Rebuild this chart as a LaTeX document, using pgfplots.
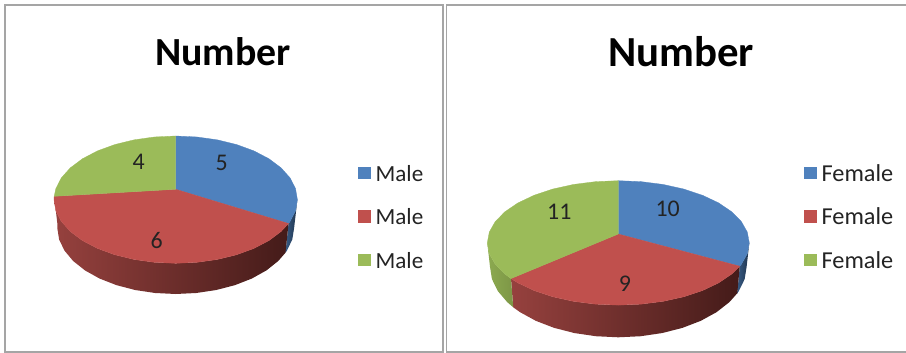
\documentclass[border=0pt]{standalone}
\usepackage{pgfplots}
\usepackage{pgfplotstable}
\usepackage{fontspec}
\pgfplotsset{compat=1.18}
\setmainfont{Carlito}
\definecolor{pblue}{HTML}{4F81BD}
\definecolor{pred}{HTML}{C0504D}
\definecolor{pgreen}{HTML}{9BBB59}
\definecolor{frame}{RGB}{165,165,165}
\definecolor{txt}{RGB}{35,35,35}
% unit-ellipse outlines: s = sin t, c = cos t, r = 0 top rim, r = 1 lower rim
\pgfplotstableread{
s c r
0 0.163 0
0 1 0
.1736 .9848 0
.3420 .9397 0
.5 .8660 0
.6428 .7660 0
.7660 .6428 0
.8660 .5 0
.9397 .3420 0
.9848 .1736 0
1 0 0
.9848 -.1736 0
.9397 -.3420 0
.9272 -.3746 0
}\LB
\pgfplotstableread{
s c r
0 0.163 0
.9272 -.3746 0
.8660 -.5 0
.7660 -.6428 0
.6428 -.7660 0
.5 -.8660 0
.3420 -.9397 0
.1736 -.9848 0
0 -1 0
-.1736 -.9848 0
-.3420 -.9397 0
-.5 -.8660 0
-.6428 -.7660 0
-.7660 -.6428 0
-.8660 -.5 0
-.9397 -.3420 0
-.9848 -.1736 0
-1 0 0
-.9986 .0523 0
}\LR
\pgfplotstableread{
s c r
0 0.163 0
-.9986 .0523 0
-.9848 .1736 0
-.9397 .3420 0
-.8660 .5 0
-.7660 .6428 0
-.6428 .7660 0
-.5 .8660 0
-.3420 .9397 0
-.1736 .9848 0
0 1 0
}\LG
\pgfplotstableread{
s c r
.9272 -.3746 0
.8660 -.5 0
.7660 -.6428 0
.6428 -.7660 0
.5 -.8660 0
.3420 -.9397 0
.1736 -.9848 0
0 -1 0
-.1736 -.9848 0
-.3420 -.9397 0
-.5 -.8660 0
-.6428 -.7660 0
-.7660 -.6428 0
-.8660 -.5 0
-.9397 -.3420 0
-.9848 -.1736 0
-1 0 0
-.9986 .0523 0
-.9986 .0523 1
-1 0 1
-.9848 -.1736 1
-.9397 -.3420 1
-.8660 -.5 1
-.7660 -.6428 1
-.6428 -.7660 1
-.5 -.8660 1
-.3420 -.9397 1
-.1736 -.9848 1
0 -1 1
.1736 -.9848 1
.3420 -.9397 1
.5 -.8660 1
.6428 -.7660 1
.7660 -.6428 1
.8660 -.5 1
.9272 -.3746 1
}\LRW
\pgfplotstableread{
s c r
1 0 0
.9848 -.1736 0
.9397 -.3420 0
.9272 -.3746 0
.9272 -.3746 1
.9397 -.3420 1
.9848 -.1736 1
1 0 1
}\BW
\pgfplotstableread{
s c r
0 0.143 0
0 1 0
.1736 .9848 0
.3420 .9397 0
.5 .8660 0
.6428 .7660 0
.7660 .6428 0
.8660 .5 0
.9397 .3420 0
.9848 .1736 0
1 0 0
.9848 -.1736 0
.9397 -.3420 0
.9272 -.3746 0
}\RB
\pgfplotstableread{
s c r
0 0.143 0
.9272 -.3746 0
.8660 -.5 0
.7660 -.6428 0
.6428 -.7660 0
.5 -.8660 0
.3420 -.9397 0
.1736 -.9848 0
0 -1 0
-.1736 -.9848 0
-.3420 -.9397 0
-.5 -.8660 0
-.6428 -.7660 0
-.7660 -.6428 0
-.8192 -.5736 0
}\RR
\pgfplotstableread{
s c r
0 0.143 0
-.8192 -.5736 0
-.8660 -.5 0
-.9397 -.3420 0
-.9848 -.1736 0
-1 0 0
-.9848 .1736 0
-.9397 .3420 0
-.8660 .5 0
-.7660 .6428 0
-.6428 .7660 0
-.5 .8660 0
-.3420 .9397 0
-.1736 .9848 0
0 1 0
}\RG
\pgfplotstableread{
s c r
.9272 -.3746 0
.8660 -.5 0
.7660 -.6428 0
.6428 -.7660 0
.5 -.8660 0
.3420 -.9397 0
.1736 -.9848 0
0 -1 0
-.1736 -.9848 0
-.3420 -.9397 0
-.5 -.8660 0
-.6428 -.7660 0
-.7660 -.6428 0
-.8192 -.5736 0
-.8192 -.5736 1
-.7660 -.6428 1
-.6428 -.7660 1
-.5 -.8660 1
-.3420 -.9397 1
-.1736 -.9848 1
0 -1 1
.1736 -.9848 1
.3420 -.9397 1
.5 -.8660 1
.6428 -.7660 1
.7660 -.6428 1
.8660 -.5 1
.9272 -.3746 1
}\RRW
\pgfplotstableread{
s c r
-.8192 -.5736 0
-.8660 -.5 0
-.9397 -.3420 0
-.9848 -.1736 0
-1 0 0
-1 0 1
-.9848 -.1736 1
-.9397 -.3420 1
-.8660 -.5 1
-.8192 -.5736 1
}\RGW
\pgfplotsset{
  table/lp/.style={x expr=175.7+(121.7-3.3*\thisrow{r})*\thisrow{s},
                   y expr=199.65+28.35*\thisrow{r}-(63.65+2.35*\thisrow{r})*\thisrow{c}},
  table/rp/.style={x expr=618.3+(131-2.7*\thisrow{r})*\thisrow{s},
                   y expr=242.9+24*\thisrow{r}-(62.2+8.2*\thisrow{r})*\thisrow{c}},
  face/.style={fill=#1,draw=#1,line width=.3pt,forget plot},
  panel/.style={
    scale only axis,y dir=reverse,ticks=none,
    ymin=5,ymax=352,height=347bp,
    axis line style={draw=frame,line width=1.7bp},
    title style={anchor=center,text=black,inner sep=0pt},
    legend style={draw=none,fill=none,inner sep=0pt,anchor=north west,
      text=txt,row sep=27.5bp,
      nodes={inner sep=0pt,text height=16bp,text depth=0pt}},
    legend cell align=left,
    legend image code/.code={\path[draw=none,fill=none] (0bp,0bp) -- (17.4bp,0bp);\fill[draw=none,##1] (0bp,-6.3bp) rectangle (12.7bp,6.4bp);},
  },
  lab/.style={only marks,mark size=0pt,forget plot,nodes near coords,
    nodes near coords align={center},point meta=explicit symbolic,
    every node near coord/.append style={font=\fontsize{24}{26}\selectfont,text=txt,inner sep=0pt}},
}
\begin{document}
\begin{tikzpicture}
\path[use as bounding box] (0,0) rectangle (906bp,353bp);
\begin{axis}[panel,at={(5bp,1bp)},anchor=south west,width=438bp,
  xmin=5,xmax=443,title={Number},
  title style={at={(0.498,0.847)},font=\fontsize{40}{44}\selectfont\bfseries},
  legend style={at={(0.806,0.539)},font=\fontsize{23.2}{25}\selectfont}]
\addplot[forget plot,draw=none,left color=pblue!70!black,right color=pblue!40!black] table[lp]{\BW} -- cycle;
\addplot[forget plot,draw=none,left color={rgb,255:red,150;green,65;blue,62},middle color={rgb,255:red,105;green,42;blue,40},right color={rgb,255:red,68;green,27;blue,25}] table[lp]{\LRW} -- cycle;
\addplot[face=pblue] table[lp]{\LB} -- cycle;
\addplot[face=pred] table[lp]{\LR} -- cycle;
\addplot[face=pgreen] table[lp]{\LG} -- cycle;
\addplot[lab] table[x=x,y=y,meta=l]{
x y l
221.7 163.3 5
156.7 240.7 6
138.7 161.7 4
};
\addlegendimage{fill=pblue}\addlegendentry{Male}
\addlegendimage{fill=pred}\addlegendentry{Male}
\addlegendimage{fill=pgreen}\addlegendentry{Male}
\end{axis}
\begin{axis}[panel,at={(446.5bp,1bp)},anchor=south west,width=461.5bp,
  xmin=446.5,xmax=908,title={Number},
  title style={at={(0.508,0.847)},font=\fontsize{43}{47}\selectfont\bfseries},
  legend style={at={(0.7747,0.539)},font=\fontsize{24.4}{26}\selectfont}]
\addplot[forget plot,draw=none,left color=pblue!70!black,right color=pblue!40!black] table[rp]{\BW} -- cycle;
\addplot[forget plot,draw=none,left color={rgb,255:red,150;green,65;blue,62},middle color={rgb,255:red,105;green,42;blue,40},right color={rgb,255:red,68;green,27;blue,25}] table[rp]{\RRW} -- cycle;
\addplot[forget plot,draw=none,left color={rgb,255:red,140;green,170;blue,80},right color={rgb,255:red,125;green,150;blue,70}] table[rp]{\RGW} -- cycle;
\addplot[face=pblue] table[rp]{\RB} -- cycle;
\addplot[face=pred] table[rp]{\RR} -- cycle;
\addplot[face=pgreen] table[rp]{\RG} -- cycle;
\addplot[lab] table[x=x,y=y,meta=l]{
x y l
667.7 209.3 10
625 284 9
559.3 211.7 11
};
\addlegendimage{fill=pblue}\addlegendentry{Female}
\addlegendimage{fill=pred}\addlegendentry{Female}
\addlegendimage{fill=pgreen}\addlegendentry{Female}
\end{axis}
\end{tikzpicture}
\end{document}
